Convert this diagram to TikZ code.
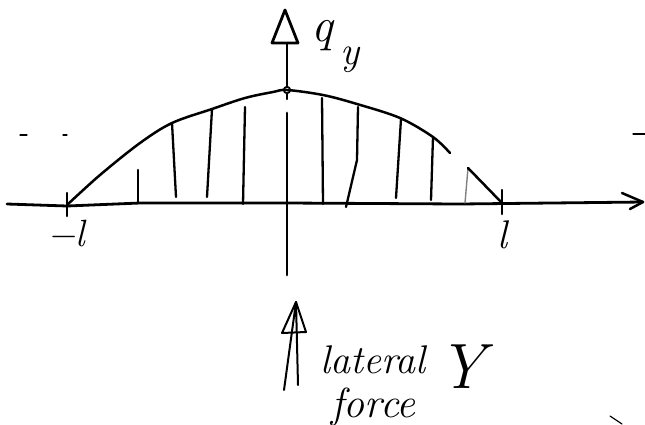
\documentclass[tikz,border=0pt]{standalone}
\usepackage{fontspec}
\begin{document}
\begin{tikzpicture}[x=1pt,y=-1pt,
  ink/.style={line width=2.5pt,line cap=round,line join=round,black},
  hatch/.style={line width=2.3pt,line cap=round},
  faint/.style={line width=1.2pt,line cap=round},
  lbl/.style={inner sep=0pt,font=\itshape}]
\useasboundingbox (0,0) rectangle (645,424);
% horizontal axis
\coordinate (xl) at (7,204);
\coordinate (xr) at (643,202);
\draw[ink,line width=2.8pt] (xl) -- (67,206) -- (140,203) -- (287,203) -- (460,204) -- (xr);
\draw[ink] (622,193) -- (xr) -- (630,209);
% ticks
\coordinate (ml) at (67,205);
\coordinate (pl) at (502,203);
\draw[ink] (67,193) -- (67,216);
\draw[ink] (502,190) -- (502,214);
% vertical axis
\coordinate (peak) at (287,90);
\draw[ink] (287,43) -- (287,86);
\draw[ink,line width=1.8pt] (peak) circle (3.2);
\draw[ink] (287,94) -- (287,99);
\draw[ink,line width=2.8pt] (287,113) -- (287,275);
\draw[ink,line width=2.8pt,fill=white] (285,10) -- (272,43) -- (298,43) -- cycle;
% load curve
\draw[ink] plot[smooth,tension=0.55] coordinates {(67,205) (100,175) (140,143) (172,123) (212,109) (245,98) (273,92) (287,90) (323,95) (357,104) (400,118) (433,137) (450,153)};
% hatching
\draw[hatch] (138,170) -- (138,202);
\draw[hatch] (172,123) -- (176,197);
\draw[hatch] (212,109) -- (207,197);
\draw[hatch] (245,107) -- (243,204);
\draw[hatch] (322,98) -- (323,204);
\draw[hatch] (358,107) -- (357,160) -- (346,207);
\draw[hatch] (401,119) -- (396,198);
\draw[hatch] (433,137) -- (431,200);
\draw[hatch,line width=1.4pt,gray] (468,168) -- (465,203);
\draw[ink] (468,168) -- (pl);
% labels
\node[lbl,font=\fontsize{48}{48}\selectfont\itshape,anchor=base west] (q) at (311,41) {q};
\node[lbl,font=\fontsize{40}{40}\selectfont\itshape,anchor=base west] (qy) at (340,64) {y};
\node[lbl,font=\fontsize{38}{38}\selectfont\itshape,anchor=base] (lm) at (66,246) {−l};
\node[lbl,font=\fontsize{40}{40}\selectfont\itshape,anchor=base] (lp) at (502,248) {l};
% bottom double arrow
\draw[ink,line width=2pt] (284,390) -- (296,302) -- (298,385);
\draw[ink,line width=2pt] (282,333) -- (296,302) -- (306,332) -- cycle;
\node[lbl,font=\fontsize{40}{40}\selectfont\itshape,anchor=base west] (lat) at (320,373) {lateral};
\node[lbl,font=\fontsize{64}{64}\selectfont\itshape,anchor=base] (Y) at (462,388) {Y};
\node[lbl,font=\fontsize{42}{42}\selectfont\itshape,anchor=base west] (force) at (331,417) {force};
% stray marks
\draw[faint] (20,135) -- (27,135);
\draw[faint] (63,135) -- (67,135);
\draw[faint] (633,134) -- (645,134);
\draw[faint] (610,416) -- (622,424);
\end{tikzpicture}
\end{document}
